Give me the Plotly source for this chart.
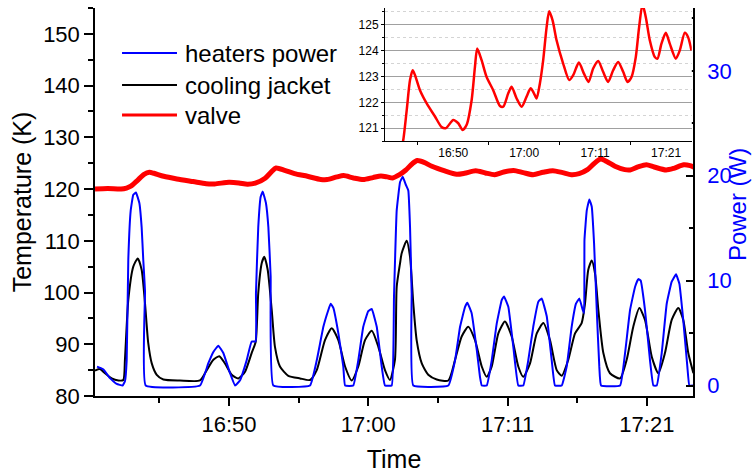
import plotly.graph_objects as go

# ---- data: time axis in minutes after 16:00 ----
time_power = [40.21, 40.67, 41.17, 41.67, 42.11, 42.28, 42.41, 42.53, 42.71, 42.90, 43.10, 43.35,
              43.52, 43.64, 43.77, 43.82, 47.85, 48.46, 48.84, 49.21, 49.58, 50.07, 50.45, 50.82,
              51.31, 51.68, 51.98, 52.00, 52.17, 52.35, 52.50, 52.74, 52.92, 53.09, 53.29, 56.01,
              56.51, 57.00, 57.37, 57.54, 57.74, 58.11, 58.48, 58.61, 59.22, 59.59, 59.96, 60.33,
              60.59, 60.96, 61.33, 61.57, 62.07, 62.24, 62.44, 62.69, 62.89, 63.13, 63.30, 63.43,
              63.55, 63.67, 66.27, 66.77, 67.14, 67.51, 67.68, 68.00, 68.38, 68.62, 68.75, 69.12,
              69.49, 69.86, 70.23, 70.40, 70.72, 71.09, 71.46, 71.83, 72.20, 72.57, 72.95, 73.20,
              73.57, 73.94, 74.18, 74.68, 75.05, 75.42, 75.74, 75.99, 76.24, 76.34, 76.37, 76.54,
              76.73, 76.91, 77.08, 77.28, 77.47, 77.60, 79.01, 79.38, 79.75, 80.12, 80.36, 80.54,
              80.86, 81.23, 81.48, 81.73, 82.10, 82.47, 82.84, 83.16, 83.41, 83.70, 84.00, 84.15,
              84.42]
power_w = [1.8, 1.55, 0.7, 0.15, 0.0, 0.4, 2.4, 12.0, 16.7, 18.2, 18.4, 17.4,
           15.1, 12.0, 9.0, 0.0, 0.0, 2.1, 3.2, 3.8, 3.1, 1.2, 0.0, 0.5,
           2.4, 4.2, 4.2, 8.8, 15.1, 18.0, 18.5, 17.4, 15.1, 10.4, 0.0, 0.0,
           2.4, 5.6, 7.2, 7.8, 7.4, 5.0, 1.8, 0.0, 0.0, 2.4, 5.6, 7.1,
           7.3, 5.6, 1.8, 0.0, 0.0, 8.5, 16.7, 19.4, 19.9, 19.1, 18.6, 15.1,
           8.8, 0.0, 0.0, 2.4, 5.6, 7.5, 7.9, 6.9, 3.4, 0.8, 0.0, 0.0,
           2.4, 5.9, 8.15, 8.5, 7.5, 3.7, 0.0, 0.0, 2.4, 5.6, 8.0, 8.3,
           6.6, 2.4, 0.0, 0.0, 1.8, 5.6, 7.8, 8.3, 7.2, 6.9, 13.9, 16.7,
           17.75, 17.05, 13.6, 7.2, 1.8, 0.0, 0.0, 3.1, 7.2, 9.4, 10.15, 10.0,
           7.2, 2.4, 0.0, 0.0, 3.1, 7.8, 9.9, 10.6, 9.7, 6.2, 1.8, 0.0,
           0.0]

time_jacket = [40.06, 40.43, 40.80, 41.30, 41.79, 42.16, 42.28, 42.53, 42.90, 43.23, 43.52, 43.77,
               44.01, 44.27, 44.64, 45.13, 46.36, 47.85, 48.35, 48.84, 49.28, 49.70, 50.20, 50.69,
               51.19, 51.68, 51.98, 52.17, 52.43, 52.62, 52.87, 53.17, 53.41, 53.78, 54.40, 55.27,
               56.01, 56.51, 57.12, 57.62, 58.11, 58.61, 59.10, 59.59, 60.09, 60.59, 61.08, 61.57,
               61.94, 62.31, 62.44, 62.69, 62.81, 63.18, 63.43, 63.67, 63.92, 64.30, 64.78, 65.41,
               66.27, 66.77, 67.26, 67.75, 68.25, 68.75, 69.12, 69.49, 69.98, 70.47, 70.97, 71.46,
               71.83, 72.33, 72.83, 73.32, 73.81, 74.31, 74.68, 75.17, 75.67, 76.16, 76.41, 76.65,
               76.91, 77.15, 77.40, 77.77, 78.26, 79.01, 79.50, 79.99, 80.44, 80.86, 81.36, 81.85,
               82.34, 82.84, 83.33, 83.70, 84.07, 84.45]
jacket_k = [84.9, 85.2, 84.4, 83.4, 83.0, 83.1, 87.0, 98.6, 105.0, 106.6, 104.4, 97.9,
            90.2, 86.3, 84.1, 83.2, 83.0, 83.0, 85.0, 87.0, 87.7, 86.3, 84.1, 83.4,
            84.7, 88.3, 90.5, 99.9, 105.7, 106.9, 104.4, 96.6, 89.5, 85.7, 83.9, 83.4,
            83.1, 85.0, 90.8, 93.1, 90.8, 85.7, 83.0, 85.7, 90.8, 92.6, 89.5, 85.0,
            83.1, 87.0, 101.1, 105.7, 107.6, 110.0, 106.9, 97.9, 90.8, 86.3, 84.1, 83.2,
            83.0, 87.0, 91.5, 93.4, 90.8, 85.7, 83.7, 85.7, 92.1, 94.4, 91.5, 85.7,
            83.7, 86.3, 92.1, 94.1, 90.8, 85.0, 83.9, 87.0, 92.1, 94.1, 97.9, 104.4,
            106.2, 103.7, 96.6, 88.3, 84.4, 83.4, 87.0, 93.4, 97.0, 94.7, 87.6, 84.4,
            88.3, 94.7, 97.0, 94.7, 88.3, 84.4]

time_valve = [40.06, 41.00, 42.00, 42.40, 42.72, 43.22, 43.70, 44.09, 44.43, 45.15, 46.13, 47.34,
              48.31, 48.94, 50.00, 50.73, 51.37, 51.95, 52.68, 53.16, 53.49, 54.13, 54.86, 55.82,
              56.80, 57.28, 58.01, 58.50, 59.23, 59.96, 60.68, 61.27, 61.75, 62.14, 62.62, 63.10,
              63.60, 63.97, 64.47, 65.05, 66.01, 66.89, 67.47, 68.30, 69.02, 69.71, 70.38, 71.11,
              71.83, 72.56, 73.29, 74.02, 74.75, 75.39, 75.97, 76.59, 77.07, 77.57, 78.05, 78.63,
              79.36, 79.75, 80.33, 80.96, 81.54, 82.42, 83.00, 83.73, 84.21, 84.70]
valve_k = [120.0, 120.1, 120.0, 120.2, 120.55, 121.7, 122.86, 123.24, 123.05, 122.47, 121.96, 121.45,
           121.04, 121.0, 121.32, 121.19, 120.93, 121.13, 122.09, 123.37, 124.08, 123.63, 122.98, 122.47,
           121.86, 121.83, 122.35, 122.6, 122.15, 121.83, 122.22, 122.54, 122.35, 122.15, 122.73, 123.63,
           124.91, 125.52, 125.17, 124.4, 123.5, 122.86, 123.05, 123.54, 123.12, 122.79, 123.31, 123.6,
           123.18, 122.79, 123.24, 123.56, 123.18, 122.79, 122.98, 123.75, 124.9, 125.8, 125.29, 124.4,
           123.75, 123.69, 124.27, 124.69, 124.27, 123.69, 124.01, 124.69, 124.52, 124.01]

time_ticks = [50.0, 60.333, 70.667, 81.0]
time_labels = ["16:50", "17:00", "17:11", "17:21"]
time_minor = [44.833, 55.167, 65.5, 75.833]
temp_ticks = [80, 90, 100, 110, 120, 130, 140, 150]
temp_minor = [85, 95, 105, 115, 125, 135, 145, 155]
power_ticks = [0, 10, 20, 30]
power_minor = [5, 15, 25, 35]
inset_ticks = [121, 122, 123, 124, 125]
inset_minor = [120.5, 121.5, 122.5, 123.5, 124.5, 125.5]

legend_names = ["heaters power", "cooling jacket", "valve"]
legend_colors = ["#0000ff", "#000000", "#ff0000"]
legend_widths = [2, 2, 3]

FONT = "Liberation Sans, Arial, Helvetica, sans-serif"
BLUE = "#0000ff"
RED = "#ff0000"

fig = go.Figure()

fig.add_trace(go.Scatter(
    x=time_jacket, y=jacket_k, mode="lines", name="cooling jacket",
    line=dict(color="black", width=2, shape="spline", smoothing=0.6),
    xaxis="x", yaxis="y", showlegend=False))
fig.add_trace(go.Scatter(
    x=time_valve, y=valve_k, mode="lines", name="valve",
    line=dict(color=RED, width=5, shape="spline", smoothing=0.7),
    xaxis="x", yaxis="y", showlegend=False))
fig.add_trace(go.Scatter(
    x=time_power, y=power_w, mode="lines", name="heaters power",
    line=dict(color=BLUE, width=2, shape="spline", smoothing=0.3),
    xaxis="x", yaxis="y2", showlegend=False))
# zoomed view of the valve temperature
fig.add_trace(go.Scatter(
    x=time_valve, y=valve_k, mode="lines", name="valve (detail)",
    line=dict(color=RED, width=2.5, shape="spline", smoothing=0.7),
    xaxis="x2", yaxis="y3", showlegend=False))

axis_common = dict(showgrid=False, zeroline=False, showline=True, automargin=False,
                   linecolor="black", linewidth=1.5, tickcolor="black", tickwidth=1.5)
main_range = [40.06, 84.42]

fig.update_layout(
    width=752, height=473,
    margin=dict(l=95, r=59, t=8, b=77, autoexpand=False),
    paper_bgcolor="white", plot_bgcolor="white",
    font=dict(family=FONT, size=22, color="black"),
    xaxis=dict(
        domain=[0, 1], anchor="y", range=main_range,
        tickmode="array", tickvals=time_ticks, ticktext=time_labels,
        ticks="outside", ticklen=8, tickfont=dict(size=22),
        minor=dict(tickmode="array", tickvals=time_minor, ticks="outside",
                   ticklen=5, tickwidth=1.5, tickcolor="black"),
        title=dict(text="Time", font=dict(size=25), standoff=14),
        **axis_common),
    xaxis3=dict(
        overlaying="x", anchor="y", side="top", range=main_range,
        tickmode="array", tickvals=time_ticks, showticklabels=False,
        ticks="inside", ticklen=6,
        minor=dict(tickmode="array", tickvals=time_minor, ticks="inside",
                   ticklen=6, tickwidth=1.5, tickcolor="black"),
        **axis_common),
    yaxis=dict(
        domain=[0, 1], anchor="x", range=[80, 155],
        tickmode="array", tickvals=temp_ticks,
        ticks="outside", ticklen=9, tickfont=dict(size=22),
        minor=dict(tickmode="array", tickvals=temp_minor, ticks="outside",
                   ticklen=5, tickwidth=1.5, tickcolor="black"),
        title=dict(text="Temperature (K)", font=dict(size=25), standoff=4),
        **axis_common),
    yaxis2=dict(
        overlaying="y", anchor="x", side="right", range=[-1, 36],
        tickmode="array", tickvals=power_ticks,
        ticks="inside", ticklen=7, ticklabelstandoff=8,
        tickfont=dict(size=22, color=BLUE),
        minor=dict(tickmode="array", tickvals=power_minor, ticks="inside",
                   ticklen=4, tickwidth=1.5, tickcolor="black"),
        **axis_common),
    xaxis2=dict(
        domain=[0.485, 0.998], anchor="y3", range=[40.06, 84.75],
        tickmode="array", tickvals=time_ticks, ticktext=time_labels,
        ticks="", tickfont=dict(size=12), ticklabelstandoff=1,
        minor=dict(tickmode="array", tickvals=time_minor, ticks="outside",
                   ticklen=3, tickwidth=1, tickcolor="black"),
        showgrid=False, zeroline=False, showline=True, automargin=False,
        linecolor="black", linewidth=1),
    yaxis3=dict(
        domain=[0.657, 1.0], anchor="x2", range=[120.5, 125.65],
        tickmode="array", tickvals=inset_ticks,
        ticks="outside", ticklen=3, tickwidth=1, tickcolor="black",
        tickfont=dict(size=12),
        showgrid=True, gridcolor="#a0a0a0", gridwidth=1,
        minor=dict(tickmode="array", tickvals=inset_minor, ticks="outside",
                   ticklen=2, tickwidth=1, tickcolor="black",
                   showgrid=True, gridcolor="#d4d4d4", gridwidth=1, griddash="dot"),
        zeroline=False, showline=True, automargin=False,
        linecolor="black", linewidth=1),
)

# legend drawn as line samples with labels in the upper-left corner
legend_rows = [0.884, 0.8015, 0.7242]
shapes = []
annotations = []
for name, color, width, yrow in zip(legend_names, legend_colors, legend_widths, legend_rows):
    shapes.append(dict(type="line", xref="paper", yref="paper",
                       x0=0.0452, x1=0.1371, y0=yrow, y1=yrow,
                       line=dict(color=color, width=width)))
    annotations.append(dict(text=name, xref="paper", yref="paper",
                            x=0.1472, y=yrow, xanchor="left", yanchor="middle",
                            showarrow=False, font=dict(size=24, color="black")))

# right-hand axis title placed beyond the tick labels
annotations.append(dict(text="Power (W)", xref="paper", yref="paper",
                        x=1.0736, y=0.492, xanchor="center", yanchor="middle",
                        textangle=-90, showarrow=False, borderpad=0,
                        font=dict(size=24, color=BLUE)))
fig.update_layout(shapes=shapes, annotations=annotations)

fig.write_html("out.html")
